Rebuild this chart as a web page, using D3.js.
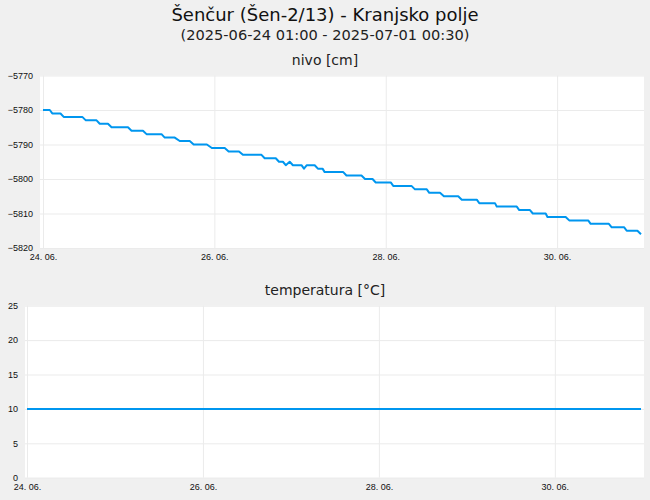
<!DOCTYPE html>
<html>
<head>
<meta charset="utf-8">
<script src="https://cdn.jsdelivr.net/npm/d3@7"></script>
<style>
	body { margin: 0; background: #f0f0f0; }
	svg { display: block; font-family: "DejaVu Sans", sans-serif; }
	.grid line { stroke: #ebebeb; stroke-width: 1; }
	.grid text { fill: #111; font-size: 9px; }
	.grid .domain { display: none; }
	.series { fill: none; stroke: #0096ef; stroke-width: 2; stroke-linejoin: round; }
</style>
</head>
<body>
<div id="chart"></div>
<script>

	const chartTitle = "Šenčur (Šen-2/13) - Kranjsko polje";
	const chartSubtitle = "(2025-06-24 01:00 - 2025-07-01 00:30)";

	// hours since the first measurement, one entry per flat step of the level
	const levelStepStart = [ 0, 2.6, 5.8, 12.0, 15.9, 19.2, 24.8, 29.0, 34.1, 38.3, 42.2, 47.3, 52.0, 56.0,
		62.1, 66.1, 68.0, 69.1, 70.0, 73.1, 73.9, 77.0, 78.9, 85.0, 90.2, 93.2, 98.1, 104.2, 108.2,
		112.3, 117.3, 122.2, 127.1, 133.4, 137.2, 141.3, 147.4, 153.4, 159.3, 163.5, 167.5 ];
	const levelStepEnd = [ 1.9, 4.9, 11.0, 15.0, 18.2, 23.8, 28.0, 33.2, 36.9, 41.1, 45.9, 50.9, 54.9, 61.2,
		65.2, 67.2, 68.0, 69.1, 72.4, 73.1, 76.1, 78.3, 84.1, 89.2, 92.3, 97.4, 103.2, 107.5, 111.2,
		116.3, 121.5, 126.6, 132.7, 136.4, 140.8, 146.4, 152.7, 158.5, 162.8, 166.5, 167.5 ];
	const levelStepValue = [ -5780, -5781, -5782, -5783, -5784, -5785, -5786, -5787, -5788, -5789, -5790,
		-5791, -5792, -5793, -5794, -5795, -5796, -5795, -5796, -5797, -5796, -5797, -5798, -5799, -5800,
		-5801, -5802, -5803, -5804, -5805, -5806, -5807, -5808, -5809, -5810, -5811, -5812, -5813, -5814,
		-5815, -5816 ];

	const tempHours = [ 0, 167.5 ];
	const tempValues = [ 10, 10 ];

	const levelTicks = [ -5820, -5810, -5800, -5790, -5780, -5770 ];
	const tempTicks = [ 0, 5, 10, 15, 20, 25 ];
	const dayTicks = [ 24, 26, 28, 30 ];	// days of June

	const startTime = Date.UTC(2025, 5, 24, 0, 0);
	const hour = 3600 * 1000;

	const width = 650;
	const height = 500;

	const svg = d3.select("#chart")
					.append("svg")
						.attr("width", width)
						.attr("height", height);

	svg.append("rect")
		.attr("width", width)
		.attr("height", height)
		.attr("fill", "#f0f0f0");

	svg.append("text")
		.attr("x", width / 2)
		.attr("y", 21)
		.attr("text-anchor", "middle")
		.style("font-size", "18px")
		.style("fill", "#111")
		.text(chartTitle);

	svg.append("text")
		.attr("x", width / 2)
		.attr("y", 40)
		.attr("text-anchor", "middle")
		.style("font-size", "14.6px")
		.style("fill", "#222")
		.text(chartSubtitle);

	const levelPoints = [];
	levelStepValue.forEach((v, i) => {
		levelPoints.push({ t: levelStepStart[i], v: v });
		if (levelStepEnd[i] > levelStepStart[i]) {
			levelPoints.push({ t: levelStepEnd[i], v: v });
		}
	});

	const tempPoints = tempHours.map((t, i) => ({ t: t, v: tempValues[i] }));

	const tickDates = dayTicks.map((d) => new Date(Date.UTC(2025, 5, d)));

	function drawPanel(opts) {

		const box = opts.box;
		const w = box.right - box.left;
		const h = box.bottom - box.top;

		const panel = svg.append("g");

		panel.append("text")
			.attr("x", width / 2)
			.attr("y", opts.titleY)
			.attr("text-anchor", "middle")
			.style("font-size", "14px")
			.style("fill", "#222")
			.text(opts.title);

		panel.append("rect")
			.attr("x", box.left)
			.attr("y", box.top)
			.attr("width", w)
			.attr("height", h)
			.attr("fill", "#fff");

		const x = d3.scaleUtc()
					.domain([ new Date(startTime), new Date(startTime + 167.5 * hour) ])
					.range([ box.left + opts.padLeft, box.right - 3 ]);

		const y = d3.scaleLinear()
					.domain(opts.domain)
					.range([ box.bottom, box.top ]);

		panel.append("g")
			.attr("class", "grid")
			.attr("transform", `translate(${box.left},0)`)
			.call(d3.axisLeft(y)
					.tickValues(opts.ticks)
					.tickFormat(d3.format("d"))
					.tickSize(-w)
					.tickPadding(7));

		panel.append("g")
			.attr("class", "grid")
			.attr("transform", `translate(0,${box.bottom})`)
			.call(d3.axisBottom(x)
					.tickValues(tickDates)
					.tickFormat(d3.utcFormat("%d. %m."))
					.tickSize(-h)
					.tickPadding(6));

		const line = d3.line()
						.x((d) => x(new Date(startTime + d.t * hour)))
						.y((d) => y(d.v));

		panel.append("path")
			.datum(opts.points)
			.attr("class", "series")
			.attr("d", line);
	}

	drawPanel({
		title: "nivo [cm]",
		titleY: 65,
		box: { left: 40, right: 644, top: 75.5, bottom: 248 },
		padLeft: 3,
		domain: [ -5820, -5770 ],
		ticks: levelTicks,
		points: levelPoints
	});

	drawPanel({
		title: "temperatura [°C]",
		titleY: 295,
		box: { left: 25, right: 644, top: 305.7, bottom: 477.7 },
		padLeft: 2,
		domain: [ 0, 25 ],
		ticks: tempTicks,
		points: tempPoints
	});

</script>
</body>
</html>
